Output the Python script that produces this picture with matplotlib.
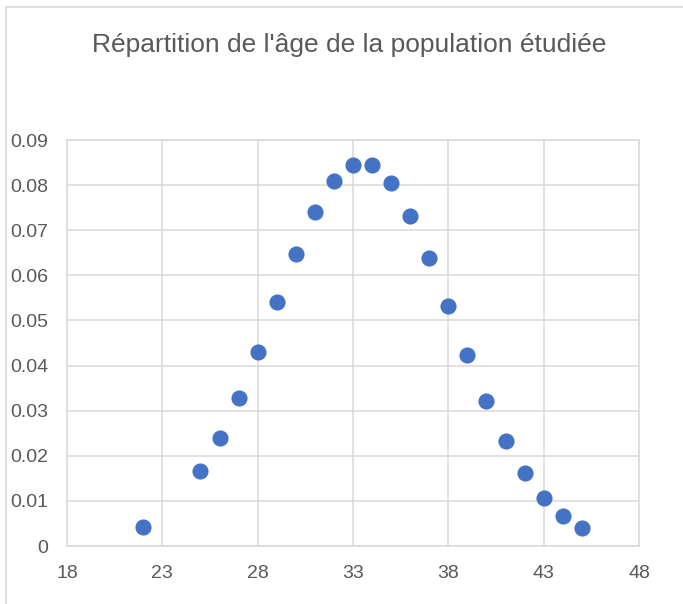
#!/usr/bin/env python3

import matplotlib
matplotlib.use("Agg")
import matplotlib.pyplot as plt
from matplotlib.lines import Line2D

# age vs share of the studied population
ages = [22, 25, 26, 27, 28, 29, 30, 31, 32, 33, 34,
        35, 36, 37, 38, 39, 40, 41, 42, 43, 44, 45]
shares = [0.0042, 0.0166, 0.0240, 0.0328, 0.0430, 0.0541, 0.0647, 0.0741,
          0.0809, 0.0845, 0.0844, 0.0805, 0.0732, 0.0639, 0.0532, 0.0424,
          0.0322, 0.0233, 0.0162, 0.0106, 0.0067, 0.0040]

x_ticks = [18, 23, 28, 33, 38, 43, 48]
y_ticks = [0, 0.01, 0.02, 0.03, 0.04, 0.05, 0.06, 0.07, 0.08, 0.09]
y_labels = ['0', '0.01', '0.02', '0.03', '0.04', '0.05', '0.06', '0.07',
            '0.08', '0.09']

title = "Répartition de l'âge de la population étudiée"

blue = "#4472C4"
grid_gray = "#D9D9D9"
text_gray = "#595959"

plt.rcParams['font.family'] = ['Liberation Sans', 'DejaVu Sans']

fig = plt.figure(figsize=(6.83, 6.04), dpi=100)
ax = fig.add_axes([0.0981, 0.096, 0.8375, 0.6722])

ax.scatter(ages, shares, s=135, color=blue, zorder=3, linewidths=0)

ax.set_xlim(18, 48)
ax.set_ylim(0, 0.09)
ax.set_xticks(x_ticks)
ax.set_yticks(y_ticks)
ax.set_yticklabels(y_labels)

ax.grid(True, color=grid_gray, linewidth=1.1)
ax.set_axisbelow(True)
for s in ax.spines.values():
    s.set_color(grid_gray)
    s.set_linewidth(1.1)
ax.tick_params(length=0, labelsize=14, colors=text_gray)
ax.tick_params(axis='y', pad=13.5)
ax.tick_params(axis='x', pad=14)

fig.text(0.511, 0.926, title, ha='center', va='center', fontsize=19,
         color=text_gray)

# chart-area frame (only top and left visible in the crop)
fig.add_artist(Line2D([6 / 683, 6 / 683], [0, 1 - 7 / 604],
                      color=grid_gray, linewidth=1.2))
fig.add_artist(Line2D([6 / 683, 1], [1 - 7 / 604, 1 - 7 / 604],
                      color=grid_gray, linewidth=1.2))

fig.savefig("out.png", dpi=100)
